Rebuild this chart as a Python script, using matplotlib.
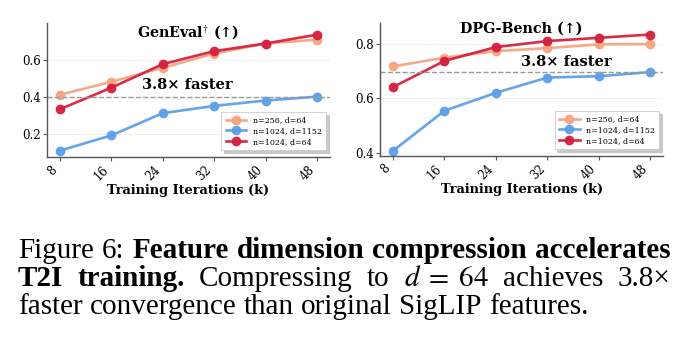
import matplotlib
matplotlib.use("Agg")
import matplotlib.pyplot as plt

iters = [8, 16, 24, 32, 40, 48]
labels = ["n=256, d=64", "n=1024, d=1152", "n=1024, d=64"]
colors = ["#F4A582", "#5E9FEA", "#D6203F"]

geneval_256_64 = [0.41, 0.48, 0.555, 0.632, 0.686, 0.707]
geneval_1024_1152 = [0.109, 0.191, 0.311, 0.350, 0.379, 0.400]
geneval_1024_64 = [0.332, 0.448, 0.575, 0.645, 0.686, 0.734]

dpg_256_64 = [0.717, 0.749, 0.773, 0.784, 0.798, 0.799]
dpg_1024_1152 = [0.407, 0.554, 0.620, 0.676, 0.681, 0.696]
dpg_1024_64 = [0.641, 0.737, 0.788, 0.810, 0.822, 0.834]

plt.rcParams["font.family"] = "DejaVu Serif"
plt.rcParams["mathtext.fontset"] = "stix"

fig = plt.figure(figsize=(6.85, 3.45), dpi=100)
ax1 = fig.add_axes([0.0686, 0.545, 0.413, 0.388])
ax2 = fig.add_axes([0.555, 0.548, 0.413, 0.385])


def panel(ax, series, title, ylim, yticks, hline, note_xy, title_y):
    for vals, lab, c in zip(series, labels, colors):
        ax.plot(iters, vals, marker="o", color=c, lw=1.9, ms=6, label=lab,
                alpha=0.95)
    ax.axhline(hline, color="#999999", ls="--", lw=1)
    ax.set_xlim(6, 50)
    ax.set_ylim(*ylim)
    ax.set_xticks(iters)
    ax.set_xticklabels([str(i) for i in iters], rotation=45, ha="right",
                       fontsize=8.5)
    ax.set_yticks(yticks)
    ax.set_yticklabels([f"{t:.1f}" for t in yticks], fontsize=8.5)
    ax.grid(axis="y", color="#eeeeee", lw=0.6)
    ax.set_axisbelow(True)
    for s in ["top", "right"]:
        ax.spines[s].set_visible(False)
    for s in ["left", "bottom"]:
        ax.spines[s].set_color("#555555")
        ax.spines[s].set_linewidth(1.0)
    ax.tick_params(length=3, width=0.8, color="#555555", pad=1.5)
    ax.set_xlabel("Training Iterations (k)", fontsize=9.3, fontweight="bold",
                  labelpad=1)
    ax.text(0.5, title_y, title, transform=ax.transAxes, ha="center",
            va="center", fontsize=10.3, fontweight="bold")
    ax.text(note_xy[0], note_xy[1], "3.8× faster", ha="center", va="center",
            fontsize=10.5, fontweight="bold")
    leg = ax.legend(loc="lower right", fontsize=5.7, frameon=True,
                    shadow={"color": "#bbbbbb", "alpha": 0.8},
                    fancybox=False, borderpad=0.55, handlelength=2.6,
                    labelspacing=0.35, bbox_to_anchor=(1.0, 0.02))
    leg.get_frame().set_edgecolor("#cccccc")
    leg.get_frame().set_linewidth(0.6)


panel(ax1, [geneval_256_64, geneval_1024_1152, geneval_1024_64],
      "GenEval$^{\\dagger}$ (↑)", (0.075, 0.796), [0.2, 0.4, 0.6], 0.40,
      (27.9, 0.462), 0.93)
panel(ax2, [dpg_256_64, dpg_1024_1152, dpg_1024_64],
      "DPG-Bench (↑)", (0.388, 0.876), [0.4, 0.6, 0.8], 0.696,
      (35.0, 0.733), 0.955)

# caption below the plots, justified like the paper
cap = dict(family="Liberation Serif", fontsize=21, va="baseline")
fig.canvas.draw()
r = fig.canvas.get_renderer()
W = fig.bbox.width
x0, x1 = 0.026, 0.979


def width(s, bold=False):
    t = fig.text(0, 0, s, fontweight="bold" if bold else "normal", **cap)
    w = t.get_window_extent(r).width / W
    t.remove()
    return w


space = width("a a") - 2 * width("a")


def line(words, y, justify=True):
    # words: list of (text, bold)
    arts = [fig.text(0, y, w, fontweight="bold" if b else "normal", **cap)
            for w, b in words]
    widths = [a.get_window_extent(r).width / W for a in arts]
    gap = space
    if justify and len(arts) > 1:
        gap = (x1 - x0 - sum(widths)) / (len(arts) - 1)
    x = x0
    for a, w in zip(arts, widths):
        a.set_x(x)
        x += w + gap


line([("Figure", False), ("6:", False), ("Feature", True), ("dimension", True),
      ("compression", True), ("accelerates", True)], 0.252)
line([("T2I", True), ("training.", True), ("Compressing", False), ("to", False),
      ("$d\\;=\\;64$", False), ("achieves", False), ("3.8×", False)], 0.171)
line([(w, False) for w in
      "faster convergence than original SigLIP features.".split()], 0.090,
     justify=False)

fig.savefig("out.png", dpi=100)
